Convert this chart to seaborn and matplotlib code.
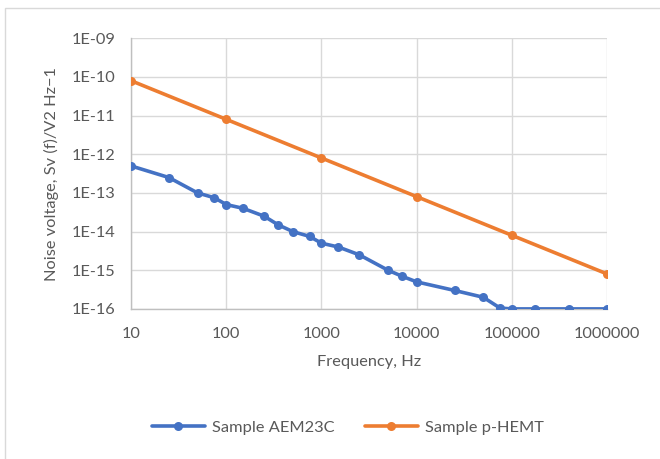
import math
import matplotlib
matplotlib.use("Agg")
import matplotlib.pyplot as plt
import matplotlib.ticker as mticker
import seaborn as sns
import pandas as pd
from matplotlib.patches import Rectangle

freq_aem = [10, 25, 50, 75, 100, 150, 250, 350, 500, 750, 1000, 1500, 2500,
            5000, 7000, 10000, 25000, 50000, 75000, 100000, 175000, 400000, 1000000]
sv_aem = [5e-13, 2.5e-13, 1e-13, 7.5e-14, 5e-14, 4e-14, 2.5e-14, 1.5e-14, 1e-14,
          7.5e-15, 5e-15, 4e-15, 2.5e-15, 1e-15, 7e-16, 5e-16, 3e-16, 2e-16,
          1.05e-16, 1e-16, 1e-16, 1e-16, 1e-16]
freq_hemt = [10, 100, 1000, 10000, 100000, 1000000]
sv_hemt = [8e-11, 8e-12, 8e-13, 8e-14, 8e-15, 8e-16]
series_names = ["Sample AEM23C", "Sample p-HEMT"]
colors = ["#4472C4", "#ED7D31"]
x_ticks = [10, 100, 1000, 10000, 100000, 1000000]
y_ticks = [1e-16, 1e-15, 1e-14, 1e-13, 1e-12, 1e-11, 1e-10, 1e-9]

sns.set_theme(style="white")
plt.rcParams['font.family'] = ['Lato', 'DejaVu Sans']

df = pd.concat([
    pd.DataFrame({"f": freq_aem, "sv": sv_aem, "s": series_names[0]}),
    pd.DataFrame({"f": freq_hemt, "sv": sv_hemt, "s": series_names[1]}),
])

fs = 11.8
txt = "#595959"

fig = plt.figure(figsize=(6.6, 4.59), dpi=100)
ax = fig.add_axes([0.1985, 0.327, 0.7215, 0.5896])

sns.lineplot(data=df, x="f", y="sv", hue="s", palette=colors, marker="o",
             markersize=6.5, markeredgewidth=0, linewidth=2.6, ax=ax,
             estimator=None, sort=False, zorder=3)

ax.set_xscale("log")
ax.set_yscale("log")
ax.set_xlim(10, 1e6)
ax.set_ylim(1e-16, 1e-9)
ax.set_xticks(x_ticks)
ax.set_xticklabels([str(t) for t in x_ticks])
ax.set_yticks(y_ticks)
ax.set_yticklabels(["1E-%02d" % round(-math.log10(t)) for t in y_ticks])
ax.xaxis.set_minor_locator(mticker.NullLocator())
ax.yaxis.set_minor_locator(mticker.NullLocator())

ax.grid(True, color="#d9d9d9", linewidth=1.0)
ax.set_axisbelow(True)
for side in ["top", "right"]:
    ax.spines[side].set_visible(False)
for side in ["left", "bottom"]:
    ax.spines[side].set_color("#bfbfbf")
    ax.spines[side].set_linewidth(1.0)

ax.tick_params(axis="both", colors=txt, labelsize=fs, length=0)
ax.tick_params(axis="x", pad=13)
ax.tick_params(axis="y", pad=11)
ax.set_xlabel("Frequency, Hz", color=txt, fontsize=fs, labelpad=10)
ax.set_ylabel("Noise voltage, Sv (f)/V2 Hz\u22121", color=txt, fontsize=fs, labelpad=9)

leg = ax.legend(loc="center", bbox_to_anchor=(0.527, 0.068), bbox_transform=fig.transFigure,
                ncol=2, frameon=False, fontsize=fs, handlelength=3.2, columnspacing=1.9,
                handletextpad=0.43)
for t in leg.get_texts():
    t.set_color(txt)

fig.patches.append(Rectangle((5 / 660, -0.1), 1.2, 1 - 8 / 459 + 0.1, transform=fig.transFigure,
                             fill=False, edgecolor="#d9d9d9", linewidth=1.0))

fig.savefig("out.png", dpi=100)
